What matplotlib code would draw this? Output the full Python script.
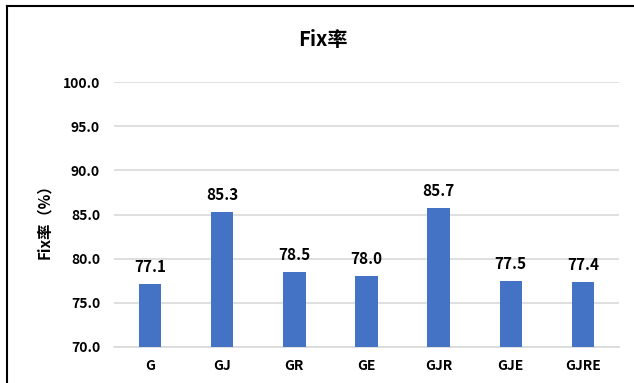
import matplotlib
matplotlib.use("Agg")
import matplotlib.pyplot as plt
from matplotlib.lines import Line2D

categories = ["G", "GJ", "GR", "GE", "GJR", "GJE", "GJRE"]
fix_rate = [77.1, 85.3, 78.5, 78.0, 85.7, 77.5, 77.4]
y_ticks = [70.0, 75.0, 80.0, 85.0, 90.0, 95.0, 100.0]

plt.rcParams["font.family"] = ["Noto Sans CJK SC", "DejaVu Sans"]

W, H = 634, 383
fig = plt.figure(figsize=(W / 100, H / 100), dpi=100)
fig.patch.set_facecolor("white")

ax = fig.add_axes([114 / W, 1 - 347 / H, (619 - 114) / W, (347 - 82) / H])

x = range(len(categories))
bars = ax.bar(x, fix_rate, width=0.31, color="#4472C4", zorder=3)

ax.set_ylim(70, 100)
ax.set_xlim(-0.5, len(categories) - 0.5)
ax.set_yticks(y_ticks)
ax.set_yticklabels([f"{v:.1f}" for v in y_ticks], fontsize=10, fontweight="bold")
ax.set_xticks(list(x))
ax.set_xticklabels(categories, fontsize=10, fontweight="bold")
ax.tick_params(axis="both", length=0, pad=10)
ax.tick_params(axis="x", pad=9)

ax.yaxis.grid(True, color="#D9D9D9", linewidth=1.2, zorder=0)
for side in ["top", "right", "left"]:
    ax.spines[side].set_visible(False)
ax.spines["bottom"].set_color("#D9D9D9")
ax.spines["bottom"].set_linewidth(1.2)

for xi, v in zip(x, fix_rate):
    ax.annotate(f"{v:.1f}", (xi, v), xytext=(0, 6.5), textcoords="offset points",
                ha="center", va="bottom", fontsize=11, fontweight="bold")

fig.text(323 / W, 1 - 39 / H, "Fix率", ha="center", va="center",
         fontsize=14.5, fontweight="bold")
fig.text(44 / W, 1 - 218 / H, "Fix率（%）", ha="center", va="center",
         rotation=90, fontsize=11, fontweight="bold")

# Outer frame: left and top edges
fig.add_artist(Line2D([7 / W, 7 / W], [0, 1 - 6 / H], transform=fig.transFigure,
                      color="black", linewidth=1.5))
fig.add_artist(Line2D([7 / W, 1], [1 - 6 / H, 1 - 6 / H], transform=fig.transFigure,
                      color="black", linewidth=1.5))

fig.savefig("out.png", dpi=100)
